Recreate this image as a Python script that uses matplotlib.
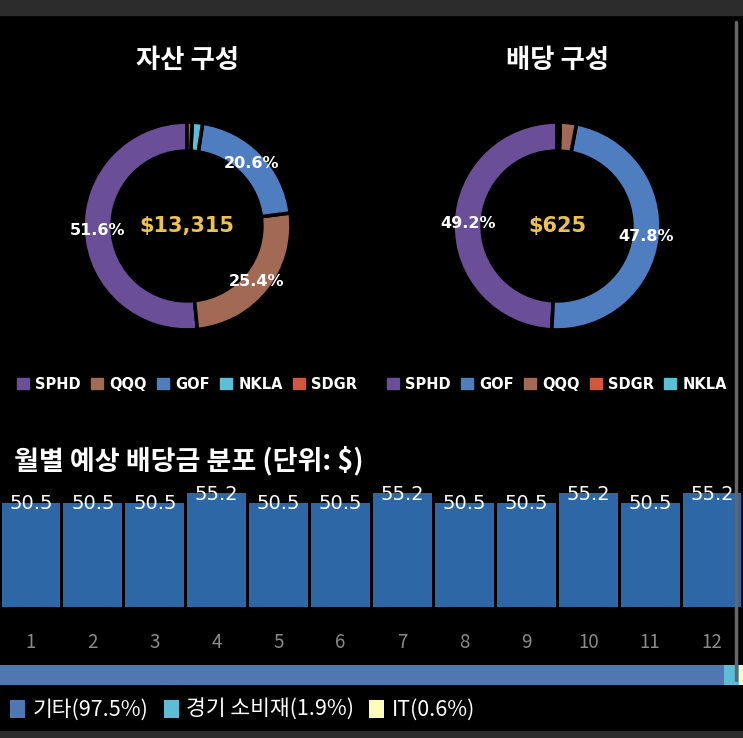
import numpy as np
import matplotlib.pyplot as plt
from matplotlib.lines import Line2D
from matplotlib.patches import Rectangle

plt.rcParams['font.family'] = ['Noto Sans CJK KR', 'DejaVu Sans']

# Data
asset_labels = ['SPHD', 'QQQ', 'GOF', 'NKLA', 'SDGR']
asset_values = [51.6, 25.4, 20.6, 1.6, 0.8]
asset_total = '$13,315'

div_labels = ['SPHD', 'GOF', 'QQQ', 'SDGR', 'NKLA']
div_values = [49.2, 47.8, 2.5, 0.3, 0.2]
div_total = '$625'

months = ['1', '2', '3', '4', '5', '6', '7', '8', '9', '10', '11', '12']
monthly_div = [50.5, 50.5, 50.5, 55.2, 50.5, 50.5, 55.2, 50.5, 50.5, 55.2, 50.5, 55.2]

sector_labels = ['기타', '경기 소비재', 'IT']
sector_values = [97.5, 1.9, 0.6]

colors = {'SPHD': '#6a4e97', 'QQQ': '#a26a55', 'GOF': '#4f7ec0',
          'NKLA': '#5bc0d6', 'SDGR': '#d2573b'}
sector_colors = ['#4f78b2', '#5dbcd6', '#fffbb8']

W, H = 743, 738
fig = plt.figure(figsize=(W / 100, H / 100), dpi=100, facecolor='black')


def rect(x, y, w, h):
    # pixel box (from top-left) -> figure fraction
    return [x / W, 1 - (y + h) / H, w / W, h / H]


# top / bottom gray bars of the screenshot
fig.add_artist(Rectangle((0, 1 - 15 / H), 1, 15 / H, transform=fig.transFigure,
                         color='#2c2c2c', zorder=0))
fig.add_artist(Rectangle((0, 0), 1, 7 / H, transform=fig.transFigure,
                         color='#2c2c2c', zorder=0))


def donut(cx, title, labels, values, total):
    ax = fig.add_axes(rect(cx - 104, 122, 208, 208))
    ax.pie(values, colors=[colors[l] for l in labels], startangle=90,
           counterclock=True, radius=1,
           wedgeprops=dict(width=0.28, edgecolor='black', linewidth=2.6))
    ax.set_xlim(-1, 1)
    ax.set_ylim(-1, 1)
    ax.set_aspect('equal')
    ax.axis('off')
    # percent labels for the large slices
    start = 90
    for v in values:
        ang = np.deg2rad(start + v / sum(values) * 180)
        start += v / sum(values) * 360
        if v >= 5:
            ax.text(0.86 * np.cos(ang), 0.86 * np.sin(ang), f'{v:.1f}%',
                    ha='center', va='center', color='white', fontsize=11.5,
                    fontweight='bold', family='DejaVu Sans', clip_on=False)
    ax.text(0, 0, total, ha='center', va='center', color='#eec14a',
            fontsize=15, fontweight='bold', family='DejaVu Sans')
    fig.text(cx / W, 1 - 60 / H, title, ha='center', va='center', color='white',
             fontsize=19, fontweight='bold')
    handles = [Rectangle((0, 0), 1, 1, color=colors[l]) for l in labels]
    fig.legend(handles, labels, loc='center', ncol=5,
               bbox_to_anchor=(cx / W, 1 - 384 / H), frameon=False,
               handlelength=0.8, handleheight=0.8, handletextpad=0.45,
               columnspacing=0.7,
               prop=dict(size=10.5, weight='bold', family='DejaVu Sans'),
               labelcolor='white')


donut(187, '자산 구성', asset_labels, asset_values, asset_total)
donut(557, '배당 구성', div_labels, div_values, div_total)

# monthly bar chart
fig.text(14 / W, 1 - 461 / H, '월별 예상 배당금 분포 (단위: $)', ha='left', va='center',
         color='white', fontsize=19.5, fontweight='bold')

axb = fig.add_axes(rect(0, 470, W, 137))
axb.set_facecolor('black')
bars = axb.bar(range(len(months)), monthly_div, width=0.95, color='#2d67a6')
for b, v in zip(bars, monthly_div):
    axb.text(b.get_x() + b.get_width() / 2, v - 0.6, f'{v}', ha='center', va='center',
             color='white', fontsize=14, family='DejaVu Sans', clip_on=False)
axb.set_xlim(-0.5, len(months) - 0.5)
axb.set_ylim(0, 66.3)
axb.set_xticks(range(len(months)), months)
axb.tick_params(axis='x', length=0, pad=18, labelsize=13.5, labelcolor='#8a8a8a')
for t in axb.get_xticklabels():
    t.set_fontweight('light')
axb.set_yticks([])
for s in axb.spines.values():
    s.set_visible(False)

# sector stacked bar
axs = fig.add_axes(rect(0, 665, W, 20))
left = 0
handles = []
for lab, val, col in zip(sector_labels, sector_values, sector_colors):
    h = axs.barh(0, val, left=left, height=1, color=col)
    handles.append(h)
    left += val
axs.set_xlim(0, 100)
axs.set_ylim(-0.5, 0.5)
axs.axis('off')

fig.legend(handles, [f'{l}({v}%)' for l, v in zip(sector_labels, sector_values)],
           loc='center left', bbox_to_anchor=(10 / W, 1 - 710 / H), ncol=3,
           frameon=False, borderpad=0, borderaxespad=0,
           handlelength=0.7, handleheight=0.9, handletextpad=0.35,
           columnspacing=0.7, prop=dict(size=15.5, weight='light'), labelcolor='white')

# scroll indicator
fig.add_artist(Line2D([736 / W, 736 / W], [1 - 22 / H, 1 - 680 / H],
                      transform=fig.transFigure, color='#666666', lw=2.5,
                      solid_capstyle='round'))

fig.savefig('out.png', dpi=100, facecolor='black')
